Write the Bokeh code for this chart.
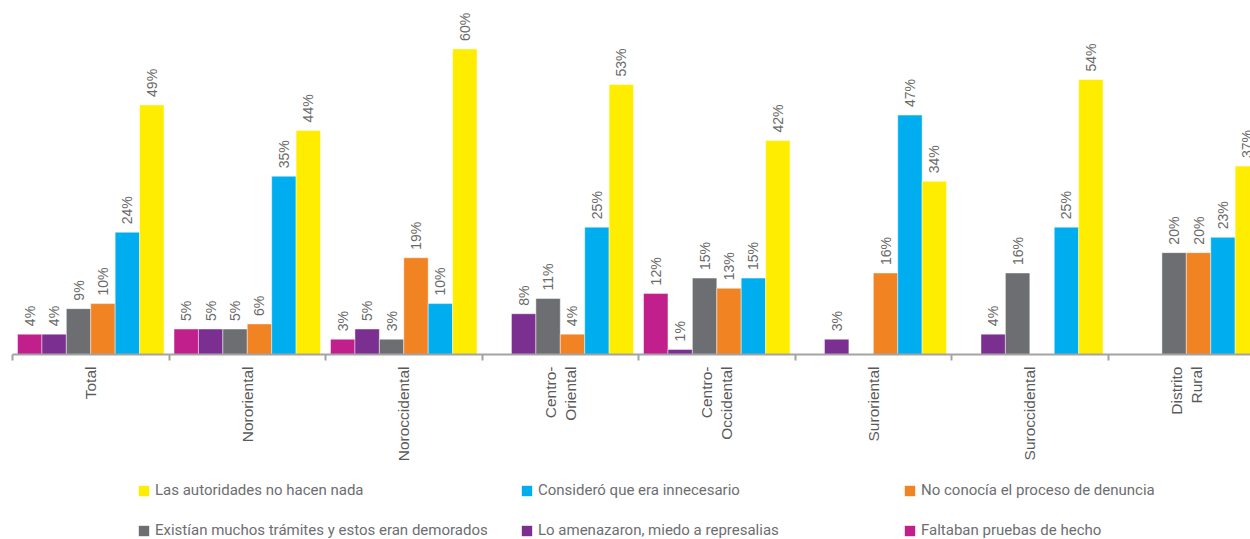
import math
from bokeh.plotting import figure
from bokeh.layouts import column
from bokeh.models import ColumnDataSource, Range1d, FixedTicker, Legend, LegendItem
from bokeh.core.properties import value
from bokeh.embed import file_html
from bokeh.resources import INLINE

# ---- data ----
categories = ["Total", "Nororiental", "Noroccidental", "Centro-\nOriental",
              "Centro-\nOccidental", "Suroriental", "Suroccidental", "Distrito\nRural"]

faltaban = [4, 5, 3, None, 12, None, None, None]
amenazaron = [4, 5, 5, 8, 1, 3, 4, None]
tramites = [9, 5, 3, 11, 15, None, 16, 20]
no_conocia = [10, 6, 19, 4, 13, 16, None, 20]
innecesario = [24, 35, 10, 25, 15, 47, 25, 23]
autoridades = [49, 44, 60, 53, 42, 34, 54, 37]

series_labels = ["Faltaban pruebas de hecho",
                 "Lo amenazaron, miedo a represalias",
                 "Existían muchos trámites y estos eran demorados",
                 "No conocía el proceso de denuncia",
                 "Consideró que era innecesario",
                 "Las autoridades no hacen nada"]
series_values = [faltaban, amenazaron, tramites, no_conocia, innecesario, autoridades]
series_colors = ["#c1208c", "#7b2f90", "#6d6e71", "#f28322", "#00aeef", "#ffed00"]
legend_order = [5, 4, 3, 2, 1, 0]

# ---- main figure ----
BAR_W = 0.156
p = figure(width=1250, height=470, output_backend="svg", toolbar_location=None,
           x_range=Range1d(0, 7.91), y_range=Range1d(0, 69.5),
           y_axis_location=None, min_border_left=12, min_border_right=0,
           min_border_top=0, min_border_bottom=116)
p.outline_line_color = None
p.xgrid.visible = False
p.ygrid.visible = False
p.background_fill_color = "white"
p.border_fill_color = "white"

for k, (vals, col) in enumerate(zip(series_values, series_colors)):
    xs, ys, labs = [], [], []
    for i, v in enumerate(vals):
        if v is None:
            continue
        xs.append(i + 0.5 + (k - 2.5) * BAR_W)
        ys.append(v)
        labs.append(f"{v}%")
    src = ColumnDataSource(dict(x=xs, top=ys, lab=labs))
    p.vbar(x="x", top="top", width=BAR_W, bottom=0, source=src,
           fill_color=col, line_color="white", line_alpha=0.45, line_width=1)
    p.text(x="x", y="top", text="lab", source=src, angle=math.pi / 2,
           text_align="left", text_baseline="middle", y_offset=-8,
           text_font=value("Liberation Sans"), text_font_size="14px",
           text_color="#6a6a6a")

# ---- x axis ----
ax = p.xaxis[0]
ax.ticker = FixedTicker(ticks=[i + 0.5 for i in range(len(categories))],
                        minor_ticks=[float(i) for i in range(len(categories) + 1)])
ax.major_label_overrides = {i + 0.5: c for i, c in enumerate(categories)}
ax.major_label_orientation = math.pi / 2
ax.major_tick_out = 0
ax.major_tick_in = 0
ax.minor_tick_out = 6
ax.minor_tick_in = 0
ax.axis_line_color = "#a3a3a3"
ax.axis_line_width = 2
ax.minor_tick_line_color = "#a3a3a3"
ax.minor_tick_line_width = 2
ax.major_label_standoff = 6
ax.major_label_text_font = "Liberation Sans"
ax.major_label_text_font_size = "15.5px"
ax.major_label_text_color = "#5a5a5a"

# ---- legend figure ----
lg = figure(width=1250, height=69, output_backend="svg", toolbar_location=None,
            x_range=Range1d(0, 1), y_range=Range1d(0, 1),
            x_axis_location=None, y_axis_location=None,
            min_border_left=0, min_border_right=0, min_border_top=0, min_border_bottom=0)
lg.outline_line_color = None
lg.xgrid.visible = False
lg.ygrid.visible = False
lg_renderers = [lg.vbar(x=[5], top=[1], width=0.1, fill_color=c, line_color=None)
                for c in series_colors]
items = [LegendItem(label=series_labels[k], renderers=[lg_renderers[k]]) for k in legend_order]
legend = Legend(items=items, location=(125, 0), orientation="horizontal", ncols=3,
                glyph_width=13, glyph_height=13, label_standoff=5, label_width=343,
                label_height=16, spacing=22, padding=0, margin=0,
                border_line_color=None, background_fill_alpha=0,
                label_text_font="Roboto", label_text_font_size="15px",
                label_text_color="#6d6e71")
lg.add_layout(legend, "center")

layout = column(p, lg, spacing=0)
open("out.html", "w").write(file_html(layout, INLINE))
